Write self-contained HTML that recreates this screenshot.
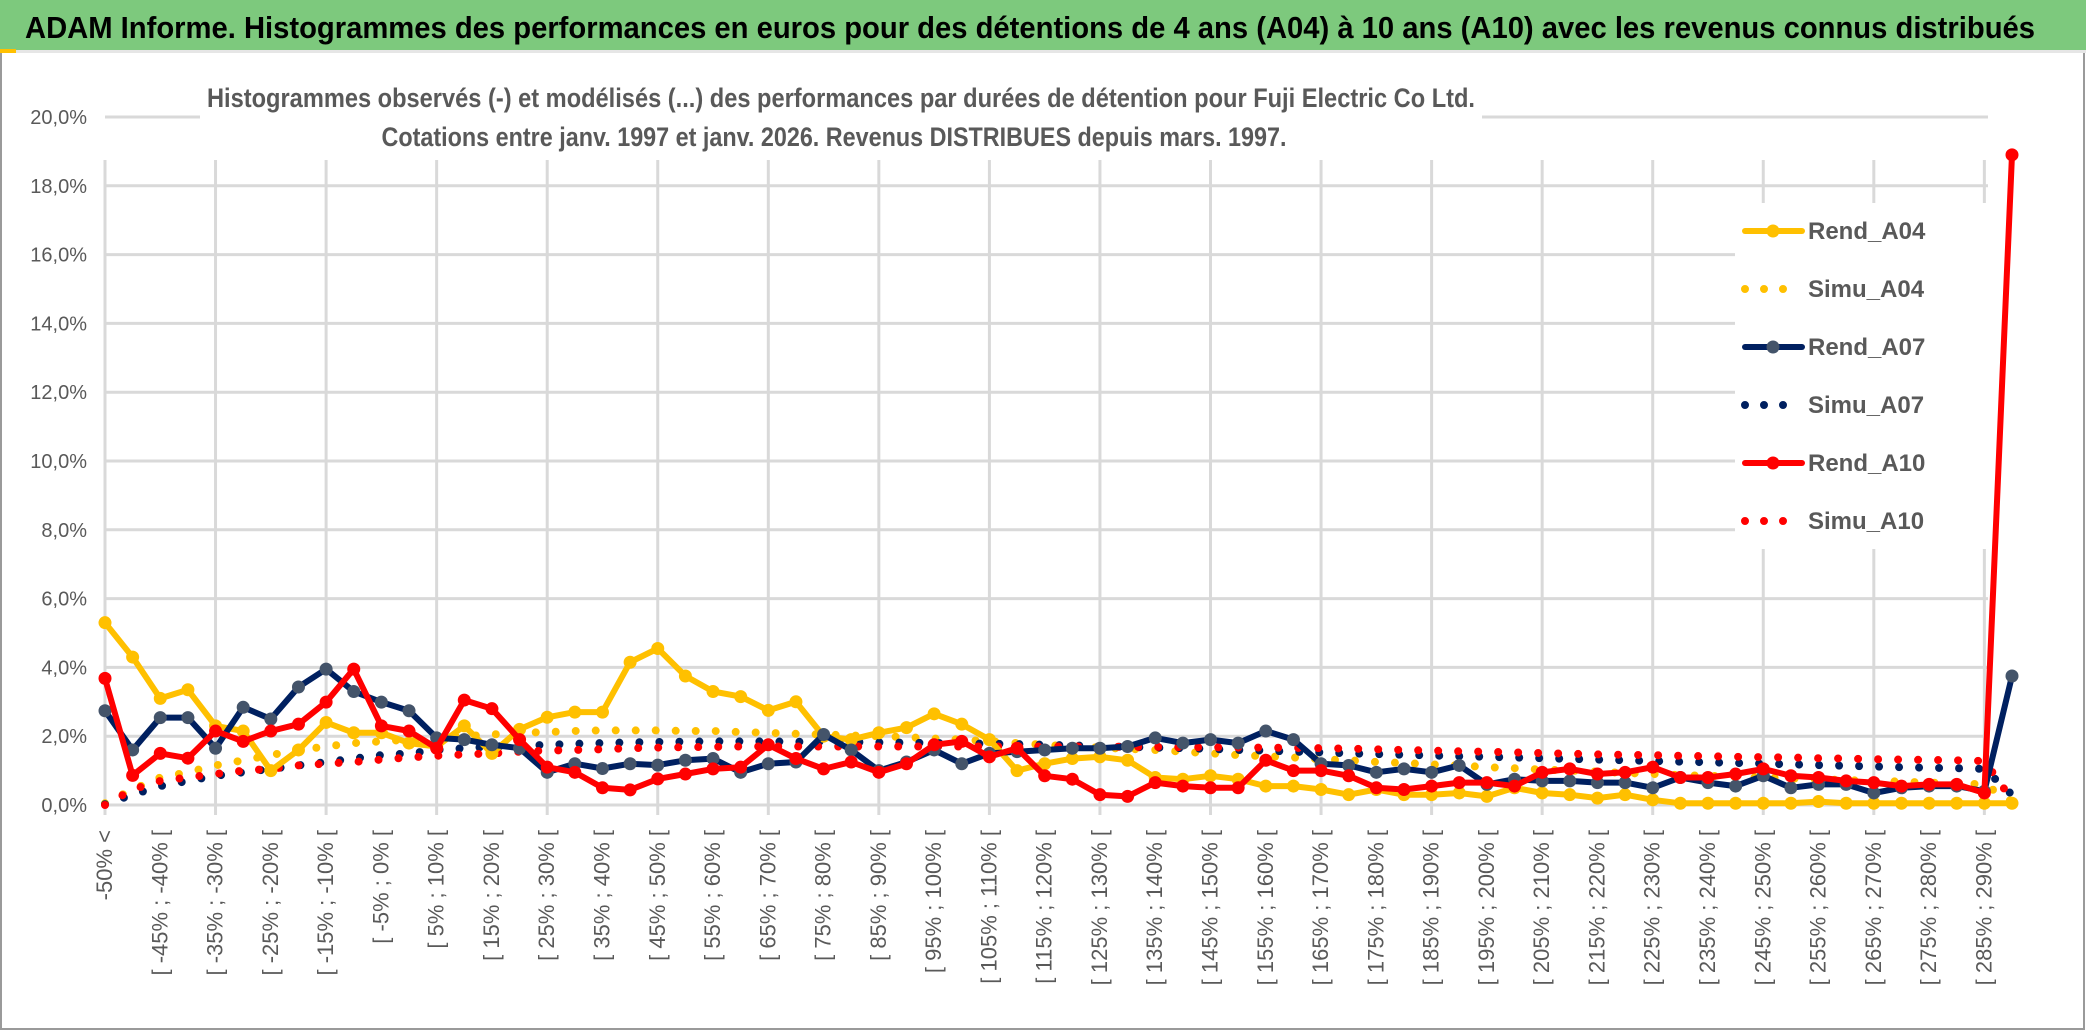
<!DOCTYPE html>
<html><head><meta charset="utf-8"><style>
html,body{margin:0;padding:0;background:#fff;}
svg{display:block;font-family:"Liberation Sans",sans-serif;}
</style></head><body>
<svg id="chart" width="2086" height="1031" viewBox="0 0 2086 1031">
<rect x="0" y="0" width="2086" height="1031" fill="#fff"/>
<rect x="1" y="1" width="2083" height="1028" fill="none" stroke="#9a9a9a" stroke-width="2"/>
<rect x="0" y="0" width="2086" height="50" fill="#7DC97D"/>
<rect x="0" y="50" width="2086" height="3" fill="#e6e6e6"/>
<rect x="0" y="49" width="16" height="4" fill="#FFC000"/>
<text x="1030" y="38" text-anchor="middle" font-size="31" font-weight="bold" fill="#000" textLength="2010" lengthAdjust="spacingAndGlyphs">ADAM Informe. Histogrammes des performances en euros pour des détentions de 4 ans (A04) à 10 ans (A10) avec les revenus connus distribués</text>
<g id="grid"></g>
<g id="ylabels"></g>
<g id="xlabels"></g>
<rect x="200" y="112" width="1282" height="48" fill="#fff"/>
<text x="841" y="107" text-anchor="middle" font-size="27" font-weight="bold" fill="#595959" textLength="1268" lengthAdjust="spacingAndGlyphs">Histogrammes observés (-) et modélisés (...) des performances par durées de détention pour Fuji Electric Co Ltd.</text>
<text x="834" y="146" text-anchor="middle" font-size="27" font-weight="bold" fill="#595959" textLength="905" lengthAdjust="spacingAndGlyphs">Cotations entre janv. 1997 et janv. 2026. Revenus DISTRIBUES depuis mars. 1997.</text>
<g id="series"></g>
<g id="legend"></g>
</svg>
<script>
const ticks = [0,2,4,6,8,10,12,14,16,18,20];
const rendA04 = [5.3,4.3,3.1,3.35,2.3,2.15,1.0,1.6,2.4,2.1,2.1,1.8,1.7,2.3,1.5,2.2,2.55,2.7,2.7,4.15,4.55,3.75,3.3,3.15,2.75,3.0,2.0,1.9,2.1,2.25,2.65,2.35,1.9,1.0,1.2,1.35,1.4,1.3,0.8,0.75,0.85,0.75,0.55,0.55,0.45,0.3,0.45,0.3,0.3,0.35,0.25,0.5,0.35,0.3,0.2,0.3,0.15,0.05,0.05,0.05,0.05,0.05,0.1,0.05,0.05,0.05,0.05,0.05,0.05,0.05];
const simuA04 = [0.05,0.45,0.8,0.95,1.15,1.3,1.45,1.6,1.7,1.8,1.85,1.9,1.95,2.0,2.05,2.1,2.12,2.15,2.17,2.17,2.17,2.15,2.15,2.12,2.1,2.07,2.05,2.02,2.0,1.97,1.93,1.9,1.85,1.8,1.75,1.7,1.67,1.63,1.6,1.55,1.5,1.45,1.42,1.38,1.33,1.3,1.25,1.22,1.18,1.15,1.1,1.07,1.03,1.0,0.97,0.93,0.9,0.87,0.85,0.82,0.8,0.77,0.75,0.72,0.7,0.68,0.65,0.63,0.6,0.1];
const rendA07 = [2.74,1.6,2.54,2.54,1.65,2.84,2.5,3.43,3.95,3.3,2.99,2.74,1.95,1.9,1.75,1.65,0.95,1.2,1.06,1.2,1.16,1.3,1.35,0.95,1.2,1.25,2.05,1.6,1.0,1.25,1.6,1.2,1.5,1.55,1.6,1.65,1.65,1.7,1.95,1.8,1.9,1.8,2.15,1.9,1.2,1.15,0.95,1.05,0.95,1.15,0.6,0.75,0.7,0.7,0.65,0.65,0.5,0.8,0.65,0.55,0.85,0.5,0.6,0.6,0.35,0.5,0.55,0.55,0.4,3.75];
const simuA07 = [0.02,0.3,0.55,0.7,0.85,0.95,1.05,1.15,1.25,1.35,1.45,1.5,1.6,1.65,1.7,1.72,1.75,1.78,1.8,1.82,1.83,1.84,1.85,1.85,1.85,1.84,1.84,1.83,1.82,1.81,1.8,1.79,1.78,1.77,1.75,1.73,1.71,1.69,1.67,1.65,1.63,1.6,1.58,1.55,1.53,1.5,1.48,1.46,1.44,1.42,1.4,1.38,1.36,1.34,1.32,1.3,1.28,1.26,1.24,1.22,1.2,1.18,1.16,1.14,1.12,1.1,1.08,1.07,1.05,0.3];
const rendA10 = [3.68,0.86,1.5,1.36,2.15,1.85,2.15,2.35,2.99,3.95,2.3,2.15,1.65,3.05,2.8,1.9,1.1,0.95,0.5,0.44,0.76,0.9,1.05,1.1,1.75,1.35,1.05,1.25,0.95,1.2,1.75,1.85,1.4,1.65,0.85,0.75,0.3,0.25,0.65,0.55,0.5,0.5,1.3,1.0,1.0,0.85,0.5,0.45,0.55,0.65,0.65,0.55,0.95,1.05,0.9,0.95,1.1,0.8,0.8,0.9,1.05,0.85,0.8,0.7,0.65,0.55,0.6,0.6,0.35,18.9];
const simuA10 = [0.0,0.45,0.7,0.8,0.9,1.0,1.05,1.15,1.2,1.25,1.32,1.38,1.43,1.47,1.5,1.55,1.58,1.6,1.62,1.65,1.67,1.68,1.69,1.7,1.7,1.7,1.7,1.7,1.7,1.7,1.7,1.7,1.7,1.7,1.7,1.7,1.7,1.69,1.69,1.68,1.68,1.67,1.67,1.66,1.65,1.64,1.62,1.6,1.58,1.56,1.55,1.53,1.51,1.49,1.47,1.46,1.45,1.43,1.42,1.4,1.39,1.38,1.36,1.35,1.33,1.32,1.31,1.3,1.28,0.15];

const NS = 'http://www.w3.org/2000/svg';
const N = rendA04.length;
const X0 = 105, X1 = 2012, Y0 = 805, Y20 = 117;
function xs(i){ return X0 + (X1 - X0) * i / (N - 1); }
function ys(v){ return Y0 - (Y0 - Y20) * v / 20; }
function mk(tag, attrs, parent){ const e = document.createElementNS(NS, tag); for (const k in attrs) e.setAttribute(k, attrs[k]); parent.appendChild(e); return e; }
function catLabel(i){
  if (i === 0) return '-50% <';
  const lo = -50 + 5 * (i - 1);
  return '[ ' + lo + '% ; ' + (lo + 5) + '% [';
}
const grid = document.getElementById('grid');
ticks.forEach(t => {
  const l = mk('line', {x1: X0, x2: 1988, y1: ys(t), y2: ys(t), stroke: '#d9d9d9', 'stroke-width': 3}, grid);
  
  
  const tx = mk('text', {x: 87, y: ys(t) + 7, 'text-anchor': 'end', 'font-size': 20, fill: '#595959'}, document.getElementById('ylabels'));
  tx.textContent = t.toFixed(1).replace('.', ',') + '%';
  
  
});
for (let i = 0; i < N; i += 4) {
  const l = mk('line', {x1: xs(i), x2: xs(i), y1: Y20 + 43, y2: Y0 + 10, stroke: '#d9d9d9', 'stroke-width': 3}, grid);
  
  
}
const xl = document.getElementById('xlabels');
for (let i = 0; i < N - 1; i += 2) {
  const x = xs(i) + 7, y = 830;
  const t = mk('text', {x: x, y: y, transform: 'rotate(-90 ' + x + ' ' + y + ')', 'text-anchor': 'end', 'font-size': 22, fill: '#595959'}, xl);
  t.textContent = catLabel(i);
  
  
}
const series = [
  {name: 'simu-a04', data: simuA04, color: '#FFC000', dot: true},
  {name: 'simu-a07', data: simuA07, color: '#002060', dot: true},
  {name: 'simu-a10', data: simuA10, color: '#FF0000', dot: true},
  {name: 'rend-a04', data: rendA04, color: '#FFC000', marker: '#FFC000'},
  {name: 'rend-a07', data: rendA07, color: '#002060', marker: '#44546A'},
  {name: 'rend-a10', data: rendA10, color: '#FF0000', marker: '#FF0000'}
];
const sg = document.getElementById('series');
series.forEach(s => {
  const g = mk('g', {}, sg);
  
  
  const pts = s.data.map((v, i) => xs(i).toFixed(1) + ',' + ys(v).toFixed(1)).join(' ');
  const pl = mk('polyline', {points: pts, fill: 'none', stroke: s.color, 'stroke-width': s.dot ? 8 : 6, 'stroke-linejoin': 'round', 'stroke-linecap': 'round'}, g);
  if (s.dot) pl.setAttribute('stroke-dasharray', '0 20');
  
  
  if (!s.dot) {
    s.data.forEach((v, i) => {
      const c = mk('circle', {cx: xs(i), cy: ys(v), r: 6.5, fill: s.marker}, g);
      
      
    });
  }
});
const lg = document.getElementById('legend');
const lbg = mk('rect', {x: 1735, y: 203, width: 253, height: 346, fill: '#fff'}, lg);


const entries = [
  {label: 'Rend_A04', color: '#FFC000', marker: '#FFC000'},
  {label: 'Simu_A04', color: '#FFC000', dot: true},
  {label: 'Rend_A07', color: '#002060', marker: '#44546A'},
  {label: 'Simu_A07', color: '#002060', dot: true},
  {label: 'Rend_A10', color: '#FF0000', marker: '#FF0000'},
  {label: 'Simu_A10', color: '#FF0000', dot: true}
];
entries.forEach((e, k) => {
  const y = 231 + k * 58;
  const g = mk('g', {}, lg);
  
  
  const l = mk('line', {x1: 1745, x2: 1802, y1: y, y2: y, stroke: e.color, 'stroke-width': e.dot ? 8 : 6, 'stroke-linecap': 'round'}, g);
  if (e.dot) l.setAttribute('stroke-dasharray', '0 19');
  
  
  if (!e.dot) {
    const c = mk('circle', {cx: 1773, cy: y, r: 6.5, fill: e.marker}, g);
    
    
  }
  const t = mk('text', {x: 1808, y: y + 8, 'font-size': 24, 'font-weight': 'bold', fill: '#595959'}, g);
  t.textContent = e.label;
  
  
});
</script>
</body></html>
